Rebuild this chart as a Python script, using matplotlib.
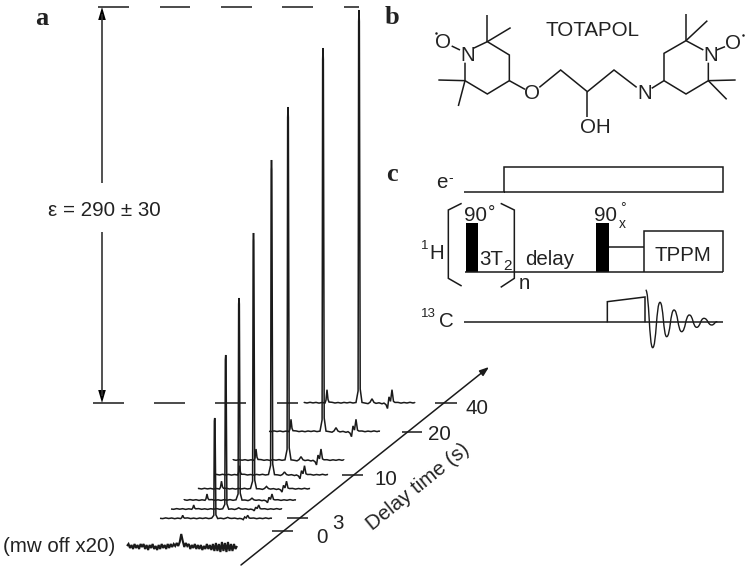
import numpy as np
import matplotlib
matplotlib.use("Agg")
import matplotlib.pyplot as plt
from matplotlib.path import Path
from matplotlib.patches import PathPatch, Rectangle, Polygon

# ---------- spectra (panel a) ----------
delay_labels = ["0", "3", "10", "20", "40"]
trace_peak_x = [214.7, 225.7, 239, 253.5, 271.5, 288, 323, 359]
trace_base_y = [518.3, 509, 500, 488.7, 474.7, 460, 431.3, 402.7]
trace_top_y = [418, 355, 298, 233, 160, 107, 48, 10]
trace_side_h = [3, 4, 6, 7.5, 9, 11, 12, 13]
trace_left = [160, 171, 184, 198, 215, 233, 269, 304]
trace_right = [272, 282, 296, 310, 328, 344, 380, 415]

profile_dx = [-55, -52, -49, -46, -43, -40, -37, -34, -33, -32, -31, -30, -27, -24, -21, -18, -15, -12, -9,
              -6, -3, -0.9, -0.35, 0, 0.35, 1.2, 3, 6, 9, 11, 13, 15, 17, 20, 23, 25, 27, 28.5, 30, 31.5, 33, 34.5, 36, 39, 42, 45, 48, 51, 54, 56]
profile_side = [0, 0, 0, 0, 0, 0, 0, 0, .2, 1, .25, .05, 0, 0, 0, 0, 0, 0, 0,
                0, 0, 0, 0, 0, 0, .15, .05, -.05, -.05, .03, .3, .02, -.05, -.03, -.06, -.03, -.15, -.45, .45, .1, 1, .1, .02, 0, 0, 0, 0, 0, 0, 0]
profile_main = [0] * 21 + [0.03, 0.97, 1, 0.97, 0.03] + [0] * 24
profile_fuzz = [.3, -.3, .4, -.2, .3, -.4, .2, -.3, 0, 0, 0, 0, .4, -.3, .2, -.4, .3, -.2, .4,
                -.3, .2, 0, 0, 0, 0, 0, -.4, .3, -.3, 0, 0, 0, 0, .3, -.3, 0, 0, 0, 0, 0, 0, 0, 0, .3, -.4, .2, -.3, .4, -.3, .2]

off_y = [546, 544, 548, 545, 549, 544, 548, 545, 549, 544, 547, 544, 549, 545, 550, 545, 548, 544, 549, 546,
         550, 545, 549, 544, 548, 545, 549, 544, 548, 544, 547, 544, 546, 543, 546, 542, 534, 541, 547, 543, 546,
         544, 549, 545, 548, 544, 549, 545, 549, 545, 550, 546, 549, 544, 549, 545, 550, 544, 551, 543, 551, 544,
         552, 542, 551, 543, 552, 542, 551, 544, 551, 544, 549, 546]

# ---------- axis of delay ----------
tick_x0 = [272, 287, 342, 402, 435]
tick_x1 = [293, 308, 363, 422, 457]
tick_y = [530.7, 518, 474.7, 431.7, 403]
tick_lab_x = [322, 338, 386, 439, 477]
tick_lab_y = [536, 522, 478, 433, 407]

top_dash_x0 = [98, 160, 221, 282, 344]
top_dash_x1 = [129, 190, 252, 313, 359]
bot_dash_x0 = [93, 154, 215, 277]
bot_dash_x1 = [124, 185, 246, 298]

# ---------- structure (panel b) in zoom pixels ----------
bonds = [
    [(240, 150), (215, 138)],
    [(280, 145), (322, 125), (388, 165), (388, 242), (322, 282), (255, 242), (255, 188)],
    [(322, 125), (322, 45)], [(322, 125), (392, 83)],
    [(255, 242), (175, 240)], [(255, 242), (235, 318)],
    [(388, 242), (435, 268)], [(478, 262), (542, 210), (622, 275), (702, 210), (770, 262)],
    [(622, 275), (622, 350)], [(815, 265), (852, 242), (918, 282), (985, 242), (985, 188)],
    [(852, 242), (852, 160), (918, 122), (970, 150)],
    [(918, 122), (918, 42)], [(918, 122), (982, 62)],
    [(985, 242), (1067, 240)], [(985, 242), (1040, 298)],
    [(1010, 150), (1035, 140)],
]
atoms = [("O", 190, 123), ("N", 262, 163), ("O", 457, 277), ("N", 793, 277), ("N", 992, 163), ("O", 1058, 125), ("OH", 647, 378)]
radicals = [(168, 100), (1090, 105)]

# ---------- pulse sequence (panel c) in zoom pixels ----------
fid_x = [797, 818, 840, 860, 882, 905, 928, 950, 972, 995, 1012]
fid_y = [405, 578, 442, 545, 465, 530, 480, 517, 490, 510, 500]

TXT = "#222222"
INK = "#1a1a1a"
FS = 14.8
plt.rcParams["font.family"] = ["Liberation Sans", "DejaVu Sans"]

fig = plt.figure(figsize=(7.5, 5.71), dpi=100)
ax = fig.add_axes([0, 0, 1, 1])
ax.set_xlim(0, 750)
ax.set_ylim(571, 0)
ax.axis("off")


def line(xs, ys, lw=1.1, color=INK, **kw):
    ax.plot(xs, ys, color=color, lw=lw, solid_capstyle="butt", solid_joinstyle="miter", **kw)


def label(x, y, s, size=FS, **kw):
    kw.setdefault("ha", "center")
    kw.setdefault("va", "center")
    ax.text(x, y + 1.5, s, fontsize=size, color=TXT, **kw)


# ---- panel a ----
for x0, x1 in zip(top_dash_x0, top_dash_x1):
    line([x0, x1], [7, 7])
for x0, x1 in zip(bot_dash_x0, bot_dash_x1):
    line([x0, x1], [403, 403])

dx = np.array(profile_dx)
side = np.array(profile_side)
main = np.array(profile_main)
fuzz = np.array(profile_fuzz)
for px, base, top, sh, l, r in zip(trace_peak_x, trace_base_y, trace_top_y, trace_side_h, trace_left, trace_right):
    xs = px + dx
    ys = base - (side * sh + main * (base - top) + fuzz)
    xs = np.r_[l, xs, r]
    ys = np.r_[base, ys, base]
    keep = (xs >= l) & (xs <= r)
    line(xs[keep], ys[keep], 1.1)

line(np.linspace(127, 237, len(off_y)), off_y, 1.5)
label(3, 545, "(mw off x20)", FS, ha="left")
label(104, 209, "\u03b5 = 290 \u00b1 30", FS)
label(42, 17, "a", 19, family="Liberation Serif", weight="bold")
label(392, 16, "b", 19, family="Liberation Serif", weight="bold")
label(392, 173, "c", 19, family="Liberation Serif", weight="bold")

line([102, 102], [183, 14], 1.2, color="#333333")
line([102, 102], [232, 396], 1.2, color="#333333")
ax.add_patch(Polygon([[102, 7], [98.2, 20], [105.8, 20]], closed=True, fc="black", ec="none"))
ax.add_patch(Polygon([[102, 403], [98.2, 390], [105.8, 390]], closed=True, fc="black", ec="none"))

ax.annotate("", xy=(489, 367), xytext=(241, 565),
            arrowprops=dict(arrowstyle="-|>,head_length=0.55,head_width=0.2", lw=1.1, color=INK,
                            shrinkA=0, shrinkB=0, fc=INK))
for x0, x1, y in zip(tick_x0, tick_x1, tick_y):
    line([x0, x1], [y, y])
for s, x, y in zip(delay_labels, tick_lab_x, tick_lab_y):
    label(x, y, s, FS)
label(418, 485, "Delay time (s)", FS, rotation=39, rotation_mode="anchor")


# ---- panel b ----
def bx(v):
    return 380 + v / 3


def by(v):
    return v / 3


for b in bonds:
    line([bx(p[0]) for p in b], [by(p[1]) for p in b])
for s, x, y in atoms:
    label(bx(x), by(y), s, FS)
for x, y in radicals:
    ax.plot(bx(x), by(y), "o", ms=1.8, color=INK, mew=0)
label(bx(637), by(88), "TOTAPOL", FS)


# ---- panel c ----
def cx(v):
    return 380 + v / 3


def cy(v):
    return 155 + v / 3


line([cx(v) for v in (253, 373, 373, 1030, 1030, 373)], [cy(v) for v in (111, 111, 37, 37, 111, 111)])
line([cx(255), cx(1030)], [cy(350), cy(350)])
line([cx(253), cx(1030)], [cy(502), cy(502)])
for x0, x1 in [(257, 294), (648, 686)]:
    ax.add_patch(Rectangle((cx(x0), cy(203)), (x1 - x0) / 3, (350 - 203) / 3, fc="black", ec="none"))
line([cx(686), cx(791)], [cy(277), cy(277)])
line([cx(v) for v in (791, 791, 1030, 1030)], [cy(v) for v in (350, 227, 227, 350)])
line([cx(v) for v in (682, 682, 795, 795)], [cy(v) for v in (502, 440, 426, 502)])
line([cx(v) for v in (245, 205, 205, 245)], [cy(v) for v in (145, 165, 370, 393)])
line([cx(v) for v in (362, 403, 403, 362)], [cy(v) for v in (145, 165, 370, 397)])

verts = [(cx(fid_x[0]), cy(fid_y[0]))]
codes = [Path.MOVETO]
for i in range(1, len(fid_x)):
    xa, xb = cx(fid_x[i - 1]), cx(fid_x[i])
    ya, yb = cy(fid_y[i - 1]), cy(fid_y[i])
    mid = (xa + xb) / 2
    verts += [(mid, ya), (mid, yb), (xb, yb)]
    codes += [Path.CURVE4] * 3
ax.add_patch(PathPatch(Path(verts, codes), fc="none", ec=INK, lw=1.0))

label(cx(185), cy(78), "e", FS)
label(cx(211), cy(64), "-", 10)
label(cx(170), cy(290), "H", FS)
label(cx(133), cy(268), "1", 9.5)
label(cx(198), cy(495), "C", FS)
label(cx(146), cy(473), "13", 9.5)
label(cx(286), cy(176), "90", FS)
label(cx(334), cy(170), "\u00b0", 13)
label(cx(676), cy(176), "90", FS)
label(cx(728), cy(156), "\u00b0", 10)
label(cx(728), cy(202), "x", 10)
label(cx(335), cy(309), "3T", FS)
label(cx(382), cy(329), "2", 11)
label(cx(508), cy(309), "delay", FS)
label(cx(908), cy(298), "TPPM", FS)
label(cx(433), cy(381), "n", FS)

fig.savefig("out.png", dpi=100, facecolor="white")
